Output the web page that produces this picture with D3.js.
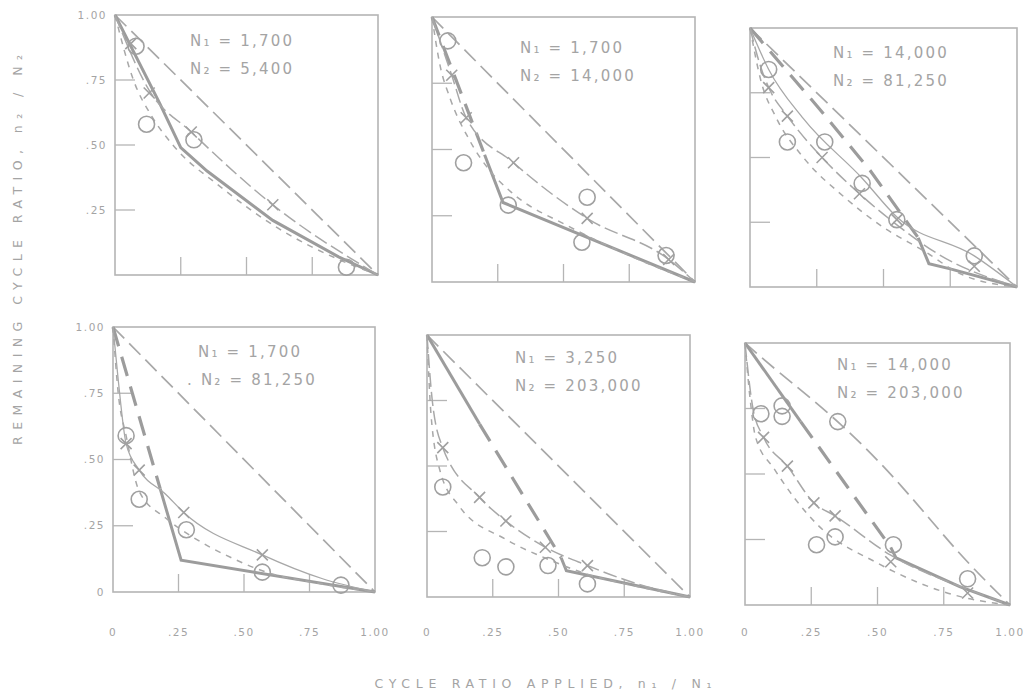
<!DOCTYPE html>
<html><head><meta charset="utf-8">
<script src="https://cdn.jsdelivr.net/npm/d3@7"></script>
<style>body{margin:0;background:#fff}svg{display:block}</style>
</head><body><svg id="c" width="1029" height="700"></svg>
<script>
// ---------- data ----------
const n1Labels = ["N\u2081 = 1,700","N\u2081 = 1,700","N\u2081 = 14,000","N\u2081 = 1,700","N\u2081 = 3,250","N\u2081 = 14,000"];
const n2Labels = ["N\u2082 = 5,400","N\u2082 = 14,000","N\u2082 = 81,250",". N\u2082 = 81,250","N\u2082 = 203,000","N\u2082 = 203,000"];
const tickValues = [0, 0.25, 0.5, 0.75, 1];
const xTickLabels = ["0", ".25", ".50", ".75", "1.00"];
const yTickLabels = ["0", ".25", ".50", ".75", "1.00"];
const xTitle = "CYCLE RATIO APPLIED, n\u2081 / N\u2081";
const yTitle = "REMAINING CYCLE RATIO, n\u2082 / N\u2082";

const circlePoints = [
  [[0.08,0.88],[0.12,0.58],[0.30,0.52],[0.88,0.03]],
  [[0.06,0.91],[0.12,0.45],[0.29,0.29],[0.59,0.32],[0.57,0.15],[0.89,0.10]],
  [[0.07,0.84],[0.14,0.56],[0.28,0.56],[0.42,0.40],[0.55,0.26],[0.84,0.12]],
  [[0.05,0.59],[0.10,0.35],[0.28,0.235],[0.57,0.075],[0.87,0.026]],
  [[0.06,0.42],[0.21,0.15],[0.30,0.115],[0.46,0.12],[0.61,0.05]],
  [[0.06,0.73],[0.14,0.76],[0.14,0.72],[0.35,0.70],[0.27,0.23],[0.34,0.26],[0.56,0.23],[0.84,0.10]]
];
const crossPoints = [
  [[0.06,0.89],[0.13,0.70],[0.29,0.55],[0.60,0.27]],
  [[0.075,0.78],[0.13,0.62],[0.31,0.45],[0.59,0.24],[0.90,0.085]],
  [[0.07,0.77],[0.14,0.66],[0.27,0.50],[0.41,0.36],[0.55,0.26],[0.84,0.08]],
  [[0.05,0.56],[0.10,0.46],[0.27,0.30],[0.57,0.14]],
  [[0.06,0.57],[0.20,0.38],[0.30,0.29],[0.45,0.19],[0.61,0.12]],
  [[0.07,0.64],[0.16,0.53],[0.26,0.39],[0.34,0.34],[0.55,0.165],[0.84,0.046]]
];
const minerLine = [
  [[0,1],[1,0]],
  [[0,1],[1,0]],
  [[0,1],[1,0]],
  [[0,1],[1,0]],
  [[0,1],[1,0]],
  [[0,1],[0.1,0.91],[0.36,0.70],[0.6,0.45],[0.8,0.2],[1,0]]
];
const thickSolid = [
  [[[0,1],[0.17,0.66],[0.25,0.49],[0.35,0.40],[0.6,0.21],[0.85,0.07],[1,0]]],
  [[[0.2,0.48],[0.27,0.30],[1,0]]],
  [[[0.63,0.19],[0.67,0.09],[0.75,0.07],[1,0]]],
  [[[0.18,0.39],[0.26,0.12],[1,0]]],
  [[[0,1],[0.2,0.66]],[[0.51,0.15],[0.53,0.10],[1,0]]],
  [[[0,1],[0.21,0.70]],[[0.55,0.22],[0.57,0.18],[0.81,0.07],[1,0]]]
];
const thickDashed = [
  [],
  [[[0,1],[0.2,0.48]]],
  [[[0,1],[0.25,0.70],[0.45,0.45],[0.63,0.19]]],
  [[[0,1],[0.18,0.39]]],
  [[[0.2,0.66],[0.51,0.15]]],
  [[[0.21,0.70],[0.55,0.22]]]
];
const crossCurve = [
  [[0,1],[0.13,0.71],[0.29,0.55],[0.6,0.27],[1,0]],
  [[0,1],[0.075,0.78],[0.13,0.62],[0.31,0.45],[0.59,0.24],[0.9,0.085],[1,0]],
  [[0,1],[0.04,0.85],[0.07,0.77],[0.14,0.66],[0.27,0.50],[0.41,0.36],[0.55,0.24],[0.7,0.13],[1,0]],
  [],
  [[0,1],[0.02,0.75],[0.06,0.57],[0.2,0.38],[0.3,0.29],[0.45,0.19],[0.61,0.12],[0.8,0.05],[1,0]],
  [[0,1],[0.03,0.75],[0.07,0.64],[0.16,0.53],[0.26,0.39],[0.34,0.34],[0.55,0.19],[0.84,0.06],[1,0]]
];
const circleCurve = [
  [[0,1],[0.07,0.75],[0.14,0.61],[0.22,0.50],[0.4,0.34],[0.62,0.18],[0.85,0.06],[1,0]],
  [[0,1],[0.03,0.82],[0.07,0.69],[0.14,0.54],[0.22,0.42],[0.3,0.34],[0.52,0.21],[0.75,0.1],[1,0]],
  [[0,1],[0.04,0.8],[0.1,0.65],[0.2,0.5],[0.35,0.35],[0.5,0.23],[0.65,0.14],[0.79,0.05],[1,0]],
  [[0,1],[0.02,0.75],[0.05,0.59],[0.10,0.38],[0.2,0.28],[0.3,0.21],[0.45,0.13],[0.57,0.08],[0.8,0.03],[1,0]],
  [[0,1],[0.015,0.7],[0.05,0.48],[0.12,0.35],[0.3,0.22],[0.47,0.14],[0.6,0.09],[0.8,0.04],[1,0]],
  [[0,1],[0.02,0.78],[0.04,0.64],[0.11,0.52],[0.27,0.31],[0.5,0.16],[0.82,0.03],[1,0]]
];
const thinLine = [
  [],
  [],
  [[0,1],[0.07,0.84],[0.2,0.65],[0.42,0.42],[0.55,0.27],[0.84,0.12],[1,0]],
  [[0,1],[0.02,0.8],[0.05,0.56],[0.10,0.46],[0.2,0.37],[0.27,0.30],[0.57,0.14],[0.8,0.05],[1,0]],
  [],
  []
];

// ---------- layout ----------
const boxes = [
  {l:115,t:15,r:378,b:275, tx:75, ty:31, yLab:["1.00",".75",".50",".25"], xLab:false},
  {l:432,t:17,r:695,b:282, tx:88, ty:36, yLab:null, xLab:false},
  {l:750,t:28,r:1017,b:287, tx:83, ty:30, yLab:null, xLab:false},
  {l:113,t:327,r:375,b:592, tx:85, ty:30, yLab:["1.00",".75",".50",".25","0"], xLab:true},
  {l:427,t:335,r:690,b:597, tx:88, ty:28, yLab:null, xLab:true},
  {l:745,t:343,r:1010,b:605, tx:92, ty:27, yLab:null, xLab:true}
];
const ink = "#a8a8a8", inkDark = "#9c9c9c", textInk = "#a4a4a4";

const svg = d3.select("#c");
svg.append("rect").attr("width",1029).attr("height",700).attr("fill","#fff");

boxes.forEach((bx, i) => {
  const x = d3.scaleLinear().domain([0,1]).range([bx.l, bx.r]);
  const y = d3.scaleLinear().domain([0,1]).range([bx.b, bx.t]);
  const g = svg.append("g");
  const line = d3.line().x(d => x(d[0])).y(d => y(d[1]));
  const curve = d3.line().x(d => x(d[0])).y(d => y(d[1])).curve(d3.curveMonotoneX);
  const smooth = d3.line().x(d => x(d[0])).y(d => y(d[1])).curve(d3.curveBasis);

  // frame
  g.append("rect").attr("x",bx.l).attr("y",bx.t).attr("width",bx.r-bx.l).attr("height",bx.b-bx.t)
    .attr("fill","none").attr("stroke","#b5b5b5").attr("stroke-width",1.6);

  // inner ticks
  const inner = tickValues.filter(v => v > 0 && v < 1);
  g.selectAll(".yt").data(inner).join("line")
    .attr("x1", x(0)).attr("x2", x(0)+20).attr("y1", d => y(d)).attr("y2", d => y(d))
    .attr("stroke","#b5b5b5").attr("stroke-width",1.3);
  g.selectAll(".xt").data(inner).join("line")
    .attr("y1", y(0)).attr("y2", y(0)-18).attr("x1", d => x(d)).attr("x2", d => x(d))
    .attr("stroke","#b5b5b5").attr("stroke-width",1.3);

  // y tick labels
  if (bx.yLab) {
    const vals = tickValues.slice().reverse().slice(0, bx.yLab.length);
    g.selectAll(".yl").data(vals).join("text")
      .attr("x", x(0)-8).attr("y", d => y(d)).attr("dy","0.35em")
      .attr("text-anchor","end").attr("font-family","DejaVu Sans").attr("font-size",10.5)
      .attr("letter-spacing",1.5).attr("fill",textInk)
      .text(d => yTickLabels[tickValues.indexOf(d)]);
  }
  // x tick labels
  if (bx.xLab) {
    g.selectAll(".xl").data(tickValues).join("text")
      .attr("x", d => x(d)).attr("y", 636)
      .attr("text-anchor","middle").attr("font-family","DejaVu Sans").attr("font-size",10.5)
      .attr("letter-spacing",1.5).attr("fill",textInk)
      .text((d,k) => xTickLabels[k]);
  }

  // lines
  g.append("path").attr("d", (minerLine[i].length > 2 ? smooth : line)(minerLine[i]))
    .attr("fill","none").attr("stroke",ink).attr("stroke-width",1.7).attr("stroke-dasharray","16,7");
  thickDashed[i].forEach(seg => g.append("path").attr("d", line(seg))
    .attr("fill","none").attr("stroke",inkDark).attr("stroke-width",3.2).attr("stroke-dasharray","20,11"));
  thickSolid[i].forEach(seg => g.append("path").attr("d", line(seg))
    .attr("fill","none").attr("stroke",inkDark).attr("stroke-width",3));
  if (crossCurve[i].length) g.append("path").attr("d", curve(crossCurve[i]))
    .attr("fill","none").attr("stroke",ink).attr("stroke-width",1.5).attr("stroke-dasharray","14,5");
  if (circleCurve[i].length) g.append("path").attr("d", curve(circleCurve[i]))
    .attr("fill","none").attr("stroke",ink).attr("stroke-width",1.5).attr("stroke-dasharray","6,6");
  if (thinLine[i].length) g.append("path").attr("d", curve(thinLine[i]))
    .attr("fill","none").attr("stroke",ink).attr("stroke-width",1.3);

  // markers
  g.selectAll(".o").data(circlePoints[i]).join("circle")
    .attr("cx", d => x(d[0])).attr("cy", d => y(d[1])).attr("r", 8)
    .attr("fill","none").attr("stroke","#a0a0a0").attr("stroke-width",1.6);
  const s = 5.5;
  g.selectAll(".x").data(crossPoints[i]).join("path")
    .attr("d", d => { const cx = x(d[0]), cy = y(d[1]);
      return `M${cx-s},${cy-s}L${cx+s},${cy+s}M${cx+s},${cy-s}L${cx-s},${cy+s}`; })
    .attr("fill","none").attr("stroke","#a0a0a0").attr("stroke-width",1.6);

  // annotation
  [n1Labels[i], n2Labels[i]].forEach((t, k) => {
    g.append("text").attr("x", bx.l + bx.tx - (t.startsWith(".") ? 11 : 0)).attr("y", bx.t + bx.ty + k*28)
      .attr("font-family","DejaVu Sans").attr("font-size",15).attr("letter-spacing",2.2)
      .attr("fill",textInk).text(t);
  });
});

// axis titles
svg.append("text").attr("x", 543).attr("y", 688).attr("text-anchor","middle")
  .attr("font-family","DejaVu Sans").attr("font-size",12.5).attr("fill",textInk)
  .attr("textLength",337).attr("lengthAdjust","spacing").text(xTitle);
svg.append("text").attr("transform","translate(22,250) rotate(-90)").attr("text-anchor","middle")
  .attr("font-family","DejaVu Sans").attr("font-size",12.5).attr("fill",textInk)
  .attr("textLength",390).attr("lengthAdjust","spacing").text(yTitle);
</script>
</body></html>
